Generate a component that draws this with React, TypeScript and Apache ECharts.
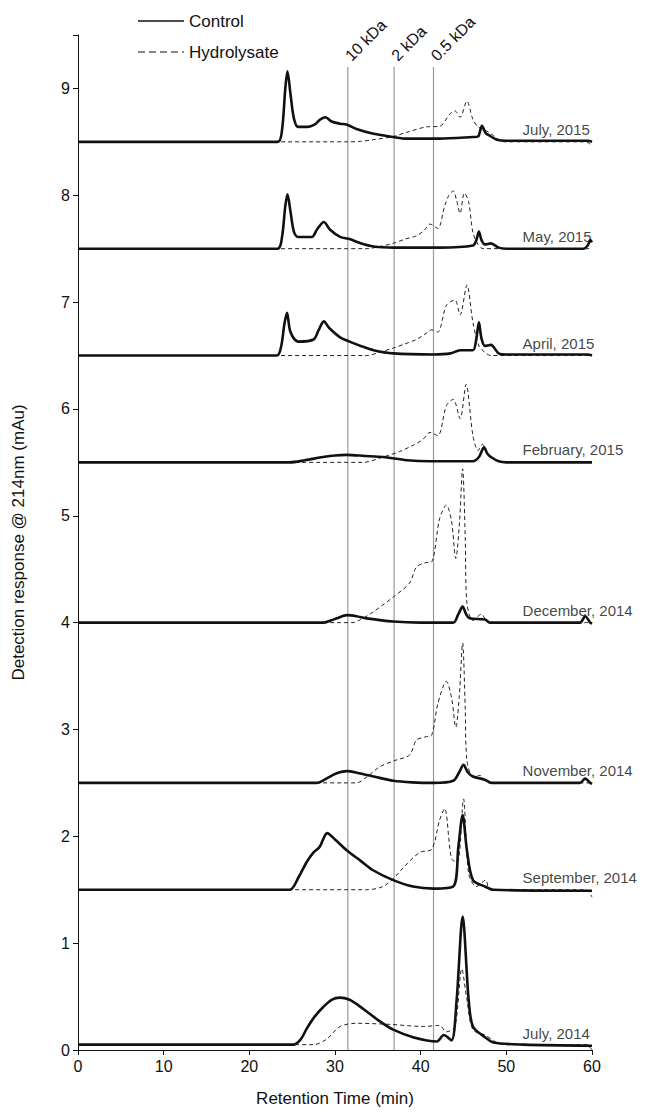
import React, { useEffect, useRef } from "react";
import * as echarts from "echarts";

// ---- data (retention time in min, detector response in mAu, stacked offsets) ----
const sampleNames = ["July, 2014", "September, 2014", "November, 2014", "December, 2014", "February, 2015", "April, 2015", "May, 2015", "July, 2015"];
const sampleBaselines = [0.04, 1.5, 2.5, 4.0, 5.5, 6.5, 7.5, 8.5];
const sampleLabelTime = 51.9;

const ctrlJul14 = [[0,0.05],[25.1,0.05],[26,0.1],[26.7,0.2],[27.6,0.31],[28.6,0.4],[29.6,0.47],[30.6,0.49],[31.7,0.47],[32.7,0.42],[33.7,0.36],[35.2,0.27],[36.8,0.19],[39.1,0.12],[41.9,0.08],[42.7,0.14],[43.6,0.09],[44.2,0.47],[44.9,1.25],[45.6,0.47],[46.1,0.22],[47.5,0.12],[48.5,0.07],[52,0.05],[60,0.04]];
const hydJul14 = [[0,0.05],[27.5,0.05],[29,0.1],[30.6,0.22],[32.5,0.25],[36.4,0.24],[40.3,0.22],[42.2,0.23],[43,0.17],[44,0.22],[44.8,0.76],[45.4,0.47],[46.1,0.19],[47.5,0.14],[48.9,0.07],[50,0.05],[59.3,0.05],[60,0.0]];

const ctrlSep14 = [[0,1.5],[24.7,1.5],[25.7,1.61],[26.7,1.76],[27.5,1.85],[28.2,1.9],[29.1,2.03],[30,1.97],[31.35,1.87],[33,1.77],[34.5,1.68],[36.8,1.59],[39.1,1.53],[41.5,1.51],[43.8,1.53],[44.4,1.9],[44.9,2.2],[45.4,1.87],[46.1,1.59],[47.5,1.53],[48.5,1.5],[60,1.49]];
const hydSep14 = [[0,1.5],[33.7,1.5],[35.6,1.53],[37,1.62],[38,1.71],[39.9,1.85],[41.3,1.88],[42.2,2.15],[42.8,2.26],[43.6,1.79],[44.3,1.76],[45,2.35],[45.6,1.65],[46.5,1.53],[47.6,1.59],[48.1,1.5],[59.3,1.5],[60,1.43]];

const ctrlNov14 = [[0,2.5],[27.85,2.5],[29,2.54],[30.2,2.59],[31.4,2.61],[32.8,2.59],[34.5,2.56],[36.8,2.52],[39,2.505],[41.5,2.5],[43.8,2.52],[44.5,2.6],[45,2.67],[45.5,2.6],[46.1,2.56],[47.5,2.53],[48.3,2.5],[58.6,2.5],[59.2,2.54],[59.8,2.5],[60,2.49]];
const hydNov14 = [[0,2.5],[31,2.5],[32.5,2.5],[33.8,2.56],[35.2,2.65],[37,2.71],[38.7,2.76],[39.5,2.9],[40.5,2.93],[41.3,2.95],[42,3.24],[43,3.45],[43.6,3.3],[44.1,3.02],[44.5,3.3],[44.9,3.81],[45.2,3.2],[45.4,2.71],[46.1,2.56],[46.9,2.57],[47.9,2.5],[60,2.5]];

const ctrlDec14 = [[0,4.0],[28.6,4.0],[29.5,4.02],[30.2,4.04],[31.4,4.07],[32.5,4.06],[33.7,4.04],[36.8,4.01],[40,4.0],[43.8,4.0],[44.4,4.08],[44.9,4.15],[45.3,4.08],[45.7,4.04],[47.5,4.03],[48.1,4.0],[58.6,4.0],[59.2,4.06],[59.8,4.0],[60,3.99]];
const hydDec14 = [[0,4.0],[30.6,4.0],[32.1,4.0],[33,4.03],[34.1,4.08],[35.5,4.16],[36.8,4.24],[38.7,4.37],[39.5,4.52],[40.5,4.56],[41.3,4.57],[42.2,4.97],[43,5.1],[43.6,4.95],[44.1,4.6],[44.5,4.9],[44.9,5.44],[45.2,4.8],[45.4,4.18],[46.1,4.02],[47.1,4.08],[47.9,4.0],[60,4.0]];

const ctrlFeb15 = [[0,5.5],[24.7,5.5],[26.5,5.52],[28.6,5.55],[30,5.565],[31.35,5.57],[33.5,5.56],[35.6,5.55],[38.4,5.52],[41,5.51],[46.1,5.51],[46.8,5.55],[47.4,5.64],[47.8,5.58],[48.2,5.55],[49.1,5.51],[50,5.5],[60,5.5]];
const hydFeb15 = [[0,5.5],[33.3,5.5],[35.6,5.55],[37.5,5.6],[39.1,5.66],[40.2,5.71],[41.1,5.78],[42,5.75],[43,6.03],[43.8,6.09],[44.6,5.91],[45.3,6.23],[46.1,5.75],[46.7,5.61],[47.2,5.67],[47.9,5.56],[48.9,5.52],[50,5.5],[60,5.5]];

const ctrlApr15 = [[0,6.5],[23.2,6.5],[23.7,6.58],[24.1,6.8],[24.4,6.9],[24.8,6.72],[25.7,6.63],[27.5,6.65],[28.1,6.74],[28.7,6.82],[29.3,6.76],[30.6,6.67],[31.7,6.63],[33,6.59],[34.5,6.55],[36.8,6.52],[41.5,6.51],[43.5,6.52],[44.6,6.55],[46.1,6.55],[46.5,6.66],[46.8,6.81],[47.1,6.66],[47.5,6.59],[48.2,6.6],[49.1,6.52],[50,6.51],[59.5,6.51],[60,6.5]];
const hydApr15 = [[0,6.5],[33.7,6.5],[35.2,6.53],[36.8,6.57],[38.2,6.61],[39.5,6.65],[40.5,6.7],[41.3,6.74],[42,6.72],[43,6.97],[44,7.02],[44.6,6.88],[45.4,7.16],[46.1,6.81],[46.8,6.59],[47.5,6.53],[48.2,6.5],[60,6.5]];

const ctrlMay15 = [[0,7.5],[23.3,7.5],[23.8,7.6],[24.2,7.9],[24.45,8.01],[24.8,7.85],[25.2,7.66],[25.7,7.61],[27.3,7.61],[27.9,7.68],[28.7,7.75],[29.4,7.68],[30.6,7.61],[31.7,7.59],[33,7.55],[34.5,7.52],[36.8,7.51],[42.2,7.51],[46.1,7.53],[46.5,7.58],[46.8,7.66],[47.1,7.58],[47.5,7.54],[48.2,7.55],[49.1,7.51],[50,7.5],[59,7.5],[59.5,7.53],[59.8,7.58],[60,7.56]];
const hydMay15 = [[0,7.5],[33.7,7.5],[35.2,7.52],[36.8,7.55],[38.2,7.59],[39.5,7.62],[40.4,7.67],[41.1,7.73],[42,7.69],[42.8,7.9],[43.3,8.0],[43.8,8.04],[44.2,7.95],[44.6,7.83],[45.1,8.02],[45.6,7.94],[46.1,7.65],[46.7,7.54],[47.3,7.5],[60,7.5]];

const ctrlJul15 = [[0,8.5],[23.3,8.5],[23.8,8.6],[24.2,9.0],[24.45,9.16],[24.8,8.95],[25.2,8.72],[25.7,8.64],[26.8,8.64],[27.6,8.66],[28.3,8.71],[28.9,8.73],[29.6,8.69],[30.6,8.67],[31.4,8.66],[32.5,8.62],[34.5,8.575],[36.8,8.545],[38.4,8.53],[42.2,8.53],[46.1,8.545],[46.7,8.55],[47.15,8.65],[47.6,8.58],[48,8.56],[48.9,8.52],[50,8.51],[59.5,8.51],[60,8.5]];
const hydJul15 = [[0,8.5],[31.7,8.5],[33,8.505],[34.5,8.52],[36.8,8.55],[38.4,8.59],[40.7,8.64],[42.2,8.645],[43.4,8.76],[44,8.79],[44.6,8.73],[45.4,8.88],[46.1,8.71],[46.7,8.64],[47.5,8.61],[48.5,8.56],[49.3,8.51],[50,8.5],[59.3,8.5],[60,8.46]];

const controlTraces = [ctrlJul14, ctrlSep14, ctrlNov14, ctrlDec14, ctrlFeb15, ctrlApr15, ctrlMay15, ctrlJul15];
const hydrolysateTraces = [hydJul14, hydSep14, hydNov14, hydDec14, hydFeb15, hydApr15, hydMay15, hydJul15];

const markerTimes = [31.5, 36.9, 41.5];
const markerNames = ["10 kDa", "2 kDa", "0.5 kDa"];
const markerTop = 9.2;

const legendNames = ["Control", "Hydrolysate"];

const xMin = 0, xMax = 60, xStep = 10;
const yMin = 0, yMax = 9.5, yStep = 1;

const FONT = "'Liberation Sans', Arial, Helvetica, sans-serif";
const TXT = "#111";

export default function App() {
  const ref = useRef<HTMLDivElement>(null);
  useEffect(() => {
    if (!ref.current) return;
    const chart = echarts.init(ref.current, undefined, { renderer: "svg" });
    const series: any[] = [];
    markerTimes.forEach((t, i) => {
      series.push({
        type: "line",
        name: "marker" + i,
        silent: true,
        symbol: "circle",
        symbolSize: 0,
        showSymbol: true,
        z: 1,
        itemStyle: { color: "#9a9a9a" },
        lineStyle: { color: "#9a9a9a", width: 1.2 },
        data: [
          { value: [t, yMin], label: { show: false } },
          {
            value: [t, markerTop],
            label: {
              show: true,
              formatter: markerNames[i],
              rotate: 45,
              position: "top",
              align: "left",
              verticalAlign: "middle",
              distance: 9,
              fontSize: 16,
              color: TXT,
              fontFamily: FONT,
              textBorderWidth: 0,
            },
          },
        ],
      });
    });
    hydrolysateTraces.forEach((d) => {
      series.push({
        type: "line",
        name: legendNames[1],
        data: d,
        symbol: "none",
        smooth: 0.3,
        z: 2,
        itemStyle: { color: "#222" },
        lineStyle: { color: "#222", width: 1, type: [4, 3] },
      });
    });
    controlTraces.forEach((d) => {
      series.push({
        type: "line",
        name: legendNames[0],
        data: d,
        symbol: "none",
        smooth: 0.3,
        z: 3,
        itemStyle: { color: "#111" },
        lineStyle: { color: "#111", width: 2.6 },
      });
    });
    series.push({
      type: "scatter",
      name: "labels",
      symbolSize: 0,
      silent: true,
      z: 4,
      data: sampleNames.map((n, i) => ({ name: n, value: [sampleLabelTime, sampleBaselines[i]] })),
      label: {
        show: true,
        formatter: "{b}",
        position: "top",
        align: "left",
        distance: 5,
        fontSize: 15,
        color: TXT,
        fontFamily: FONT,
        textBorderWidth: 0,
      },
    });

    chart.setOption({
      animation: false,
      backgroundColor: "#fff",
      textStyle: { fontFamily: FONT },
      grid: { left: 78, right: 64, top: 35, bottom: 63, containLabel: false },
      graphic: [
        { type: "line", shape: { x1: 138, y1: 21, x2: 184, y2: 21 }, style: { stroke: "#111", lineWidth: 1.5 } },
        { type: "text", x: 189, y: 21, style: { text: legendNames[0], fontSize: 17, fontFamily: FONT, fill: TXT, verticalAlign: "middle" } },
        { type: "line", shape: { x1: 138, y1: 52, x2: 184, y2: 52 }, style: { stroke: "#111", lineWidth: 1.2, lineDash: [7, 4] } },
        { type: "text", x: 189, y: 52, style: { text: legendNames[1], fontSize: 17, fontFamily: FONT, fill: TXT, verticalAlign: "middle" } },
      ],
      xAxis: {
        type: "value",
        min: xMin,
        max: xMax,
        interval: xStep,
        name: "Retention Time (min)",
        nameLocation: "middle",
        nameGap: 40,
        nameTextStyle: { fontSize: 17, color: TXT, fontFamily: FONT },
        axisLine: { lineStyle: { color: "#111", width: 1 } },
        axisTick: { inside: false, length: 5, lineStyle: { color: "#111" } },
        axisLabel: { fontSize: 16, color: TXT, margin: 8, fontFamily: FONT },
        splitLine: { show: false },
      },
      yAxis: {
        type: "value",
        min: yMin,
        max: yMax,
        interval: yStep,
        name: "Detection response @ 214nm (mAu)",
        nameLocation: "middle",
        nameGap: 51,
        nameRotate: 90,
        nameTextStyle: { fontSize: 17, color: TXT, fontFamily: FONT },
        axisLine: { show: true, lineStyle: { color: "#111", width: 1 } },
        axisTick: { show: true, inside: false, length: 5, lineStyle: { color: "#111" } },
        axisLabel: {
          fontSize: 16,
          color: TXT,
          margin: 8,
          fontFamily: FONT,
          formatter: (v: number) => (Number.isInteger(v) ? String(v) : ""),
        },
        splitLine: { show: false },
      },
      series,
    });
    return () => chart.dispose();
  }, []);
  return (
    <div
      ref={ref}
      style={{ position: "absolute", left: 0, top: 0, width: 656, height: 1113, background: "#fff" }}
    />
  );
}
